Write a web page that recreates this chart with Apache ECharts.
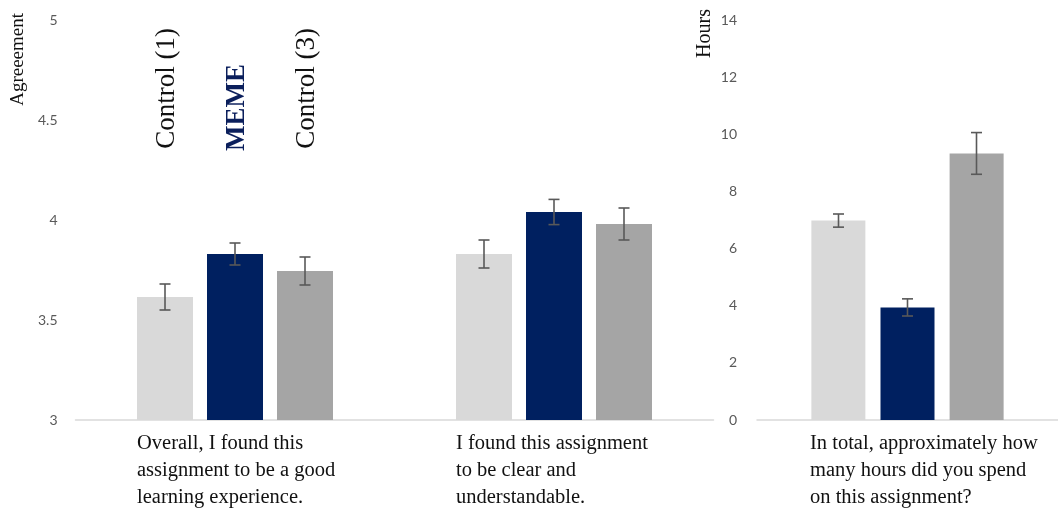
<!DOCTYPE html>
<html>
<head>
<meta charset="utf-8">
<script src="https://cdn.jsdelivr.net/npm/echarts@6/dist/echarts.min.js"></script>
<style>
  html, body { margin: 0; padding: 0; background: #fff; }
  #char { width: 1058px; height: 511px; }
</style>
</head>
<body>
<div id="char"></div>
<script>
// data
const seriesNames = ['Control (1)', 'MEME', 'Control (3)']
const agreeCats = [
  'Overall, I found this\nassignment to be a good\nlearning experience.',
  'I found this assignment\nto be clear and\nunderstandable.'
]
const hoursCats = ['In total, approximately how\nmany hours did you spend\non this assignment?']

const control1Agree = [3.615, 3.83]
const memeAgree = [3.83, 4.04]
const control3Agree = [3.745, 3.98]
const control1AgreeErr = [0.065, 0.07]
const memeAgreeErr = [0.055, 0.063]
const control3AgreeErr = [0.07, 0.08]

const control1Hours = [6.98]
const memeHours = [3.94]
const control3Hours = [9.33]
const control1HoursErr = [0.23]
const memeHoursErr = [0.3]
const control3HoursErr = [0.73]

const agreeTicks = { min: 3, max: 5, interval: 0.5 }
const hoursTicks = { min: 0, max: 14, interval: 2 }

const colors = ['#d9d9d9', '#002060', '#a5a5a5']
const serif = '"Liberation Serif", "DejaVu Serif", serif'
const tickFont = 'Lato, "Open Sans", sans-serif'

let myChart = echarts.init(document.getElementById('char'))

// error bars drawn next to each bar of a group
function errItem(offset, capW) {
  return function (params, api) {
    let lo = api.coord([api.value(0), api.value(1)])
    let hi = api.coord([api.value(0), api.value(2)])
    let cx = lo[0] + offset
    let st = { stroke: '#595959', lineWidth: 1.6 }
    return {
      type: 'group',
      children: [
        { type: 'line', shape: { x1: cx, y1: lo[1], x2: cx, y2: hi[1] }, style: st },
        { type: 'line', shape: { x1: cx - capW / 2, y1: hi[1], x2: cx + capW / 2, y2: hi[1] }, style: st },
        { type: 'line', shape: { x1: cx - capW / 2, y1: lo[1], x2: cx + capW / 2, y2: lo[1] }, style: st }
      ]
    }
  }
}
function errData(vals, errs) {
  return vals.map((v, i) => [i, v - errs[i], v + errs[i]])
}

function catLabel(boxW) {
  return {
    interval: 0,
    margin: 10,
    align: 'center',
    formatter: (v) => v.split('\n').map((l) => '{t|' + l + '}').join('\n'),
    rich: {
      t: { width: boxW, align: 'left', fontFamily: serif, fontSize: 20.5, lineHeight: 27, color: '#111' }
    }
  }
}

const valAxisBase = {
  type: 'value',
  splitLine: { show: false },
  axisLine: { show: false },
  axisTick: { show: false },
  axisLabel: { color: '#595959', fontFamily: tickFont, fontSize: 14 }
}

let agreeSets = [control1Agree, memeAgree, control3Agree]
let agreeErrs = [control1AgreeErr, memeAgreeErr, control3AgreeErr]
let hoursSets = [control1Hours, memeHours, control3Hours]
let hoursErrs = [control1HoursErr, memeHoursErr, control3HoursErr]

let series = []
agreeSets.forEach((d, i) => {
  series.push({
    name: seriesNames[i], type: 'bar', xAxisIndex: 0, yAxisIndex: 0,
    data: d, barWidth: 56, barGap: '25%', itemStyle: { color: colors[i] }
  })
})
hoursSets.forEach((d, i) => {
  series.push({
    name: seriesNames[i], type: 'bar', xAxisIndex: 1, yAxisIndex: 1,
    data: d, barWidth: 54, barGap: '28%', itemStyle: { color: colors[i] }
  })
})
agreeSets.forEach((d, i) => {
  series.push({
    type: 'custom', xAxisIndex: 0, yAxisIndex: 0, z: 5,
    renderItem: errItem((i - 1) * 70, 11), data: errData(d, agreeErrs[i])
  })
})
hoursSets.forEach((d, i) => {
  series.push({
    type: 'custom', xAxisIndex: 1, yAxisIndex: 1, z: 5,
    renderItem: errItem((i - 1) * 69, 11), data: errData(d, hoursErrs[i])
  })
})

let option = {
  animation: false,
  grid: [
    { left: 75.5, width: 638, top: 20, height: 400 },
    { left: 757, width: 305, top: 20, height: 400 }
  ],
  xAxis: [
    {
      type: 'category', gridIndex: 0, data: agreeCats,
      axisTick: { show: false },
      axisLine: { lineStyle: { color: '#d9d9d9', width: 1.5 } },
      axisLabel: catLabel(196)
    },
    {
      type: 'category', gridIndex: 1, data: hoursCats,
      axisTick: { show: false },
      axisLine: { lineStyle: { color: '#d9d9d9', width: 1.5 } },
      axisLabel: catLabel(195)
    }
  ],
  yAxis: [
    Object.assign({}, valAxisBase, { gridIndex: 0, min: agreeTicks.min, max: agreeTicks.max, interval: agreeTicks.interval,
      axisLabel: Object.assign({}, valAxisBase.axisLabel, { margin: 18 }) }),
    Object.assign({}, valAxisBase, { gridIndex: 1, min: hoursTicks.min, max: hoursTicks.max, interval: hoursTicks.interval,
      axisLabel: Object.assign({}, valAxisBase.axisLabel, { margin: 20 }) })
  ],
  graphic: [
    { type: 'text', x: 18, y: 13, rotation: Math.PI / 2,
      style: { text: 'Agreeement', font: '19px ' + serif, fill: '#111', align: 'right', verticalAlign: 'middle' } },
    { type: 'text', x: 705, y: 9, rotation: Math.PI / 2,
      style: { text: 'Hours', font: '20px ' + serif, fill: '#111', align: 'right', verticalAlign: 'middle' } },
    { type: 'text', x: 167, y: 28, rotation: Math.PI / 2,
      style: { text: seriesNames[0], font: '27px ' + serif, fill: '#111', align: 'right', verticalAlign: 'middle' } },
    { type: 'text', x: 237, y: 64, rotation: Math.PI / 2,
      style: { text: seriesNames[1], font: 'bold 27px ' + serif, fill: '#0b1f5c', align: 'right', verticalAlign: 'middle' } },
    { type: 'text', x: 307, y: 28, rotation: Math.PI / 2,
      style: { text: seriesNames[2], font: '27px ' + serif, fill: '#111', align: 'right', verticalAlign: 'middle' } }
  ],
  series: series
}
myChart.setOption(option)
</script>
</body>
</html>
